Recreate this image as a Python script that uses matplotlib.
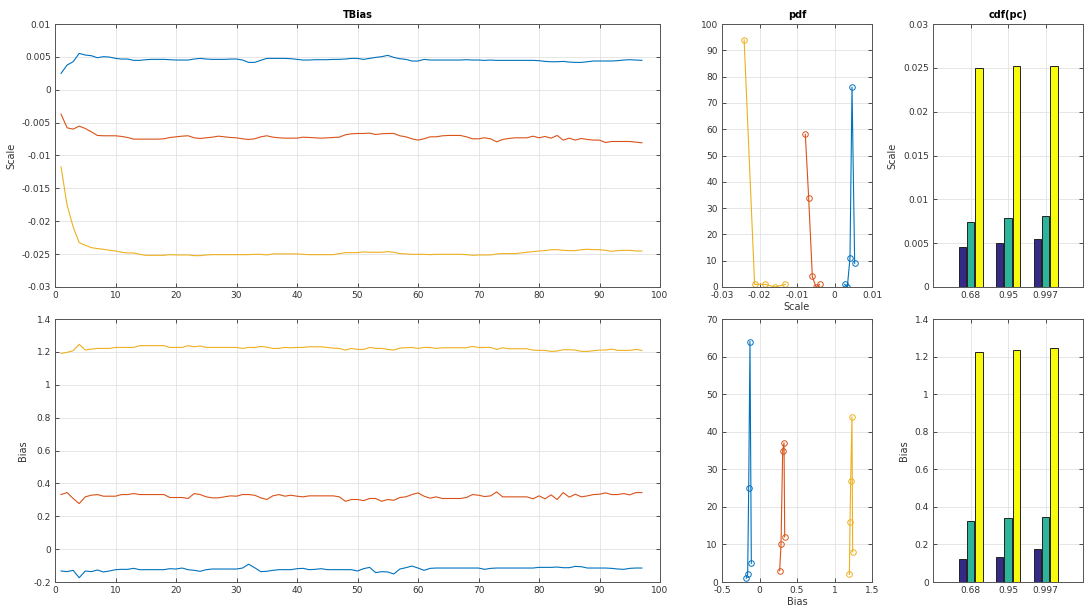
import numpy as np
import matplotlib
matplotlib.use("Agg")
import matplotlib.pyplot as plt
from matplotlib.ticker import FuncFormatter

plt.rcParams['font.family'] = ['DejaVu Sans']
plt.rcParams['axes.unicode_minus'] = False

# ---------------- data ----------------
epochs = list(range(1, 98))

scale_blue = [.00249, .00376, .00426, .00553, .00528, .00518, .00487, .00503, .00497, .00477,
              .00467, .00467, .00447, .00447, .00457, .00462, .00462, .00462, .00457, .00452,
              .00452, .00452, .00467, .00477, .00467, .00462, .00462, .00462, .00467, .00467,
              .00452, .00416, .00416, .00447, .00477, .00477, .00477, .00477, .00472, .00462,
              .00452, .00452, .00457, .00457, .00457, .00462, .00462, .00467, .00477, .00477,
              .00462, .00477, .00492, .00503, .00523, .00492, .00472, .00462, .00437, .00437,
              .00462, .00452, .00452, .00452, .00452, .00452, .00452, .00457, .00452, .00452,
              .00447, .00452, .00447, .00447, .00447, .00447, .00447, .00447, .00447, .00442,
              .00431, .00426, .00426, .00431, .00421, .00416, .00416, .00426, .00437, .00437,
              .00437, .00437, .00442, .00452, .00457, .00452, .00447]

scale_orange = [-.00371, -.00579, -.00599, -.00553, -.00589, -.00640, -.00695, -.00700, -.00700, -.00700,
                -.00710, -.00726, -.00751, -.00751, -.00751, -.00751, -.00751, -.00746, -.00726, -.00716,
                -.00706, -.00700, -.00731, -.00741, -.00731, -.00721, -.00706, -.00716, -.00726, -.00731,
                -.00746, -.00756, -.00746, -.00716, -.00700, -.00721, -.00731, -.00736, -.00736, -.00736,
                -.00721, -.00726, -.00731, -.00736, -.00731, -.00726, -.00721, -.00685, -.00670, -.00665,
                -.00665, -.00660, -.00680, -.00670, -.00665, -.00665, -.00700, -.00716, -.00746, -.00766,
                -.00746, -.00716, -.00716, -.00701, -.00695, -.00695, -.00695, -.00716, -.00746, -.00746,
                -.00731, -.00746, -.00792, -.00756, -.00741, -.00731, -.00731, -.00731, -.00706, -.00731,
                -.00711, -.00736, -.00695, -.00766, -.00736, -.00766, -.00741, -.00756, -.00766, -.00766,
                -.00802, -.00787, -.00787, -.00787, -.00787, -.00797, -.00807]

scale_yellow = [-.01173, -.01756, -.02086, -.02325, -.02365, -.02401, -.02416, -.02426, -.02442, -.02452,
                -.02472, -.02482, -.02482, -.02503, -.02518, -.02518, -.02518, -.02518, -.02508, -.02513,
                -.02513, -.02513, -.02523, -.02523, -.02513, -.02508, -.02508, -.02508, -.02508, -.02508,
                -.02508, -.02508, -.02503, -.02503, -.02513, -.02497, -.02497, -.02497, -.02497, -.02497,
                -.02503, -.02508, -.02508, -.02508, -.02508, -.02508, -.02492, -.02477, -.02477, -.02477,
                -.02467, -.02472, -.02472, -.02472, -.02462, -.02472, -.02492, -.02497, -.02503, -.02503,
                -.02503, -.02508, -.02503, -.02503, -.02503, -.02503, -.02503, -.02508, -.02518, -.02513,
                -.02513, -.02513, -.02497, -.02492, -.02492, -.02492, -.02482, -.02472, -.02462, -.02452,
                -.02447, -.02432, -.02432, -.02442, -.02447, -.02447, -.02432, -.02426, -.02432, -.02432,
                -.02442, -.02457, -.02447, -.02442, -.02442, -.02452, -.02452]

bias_blue = [-.133, -.137, -.129, -.174, -.133, -.137, -.127, -.139, -.133, -.125,
             -.123, -.123, -.117, -.125, -.125, -.125, -.125, -.125, -.119, -.121,
             -.115, -.125, -.129, -.135, -.125, -.121, -.121, -.121, -.121, -.121,
             -.115, -.092, -.113, -.137, -.135, -.129, -.125, -.125, -.125, -.119,
             -.117, -.125, -.123, -.119, -.125, -.125, -.125, -.125, -.125, -.133,
             -.119, -.111, -.143, -.137, -.139, -.151, -.121, -.113, -.103, -.115,
             -.129, -.117, -.115, -.115, -.115, -.115, -.115, -.115, -.115, -.115,
             -.123, -.117, -.115, -.115, -.115, -.115, -.115, -.115, -.115, -.111,
             -.111, -.111, -.109, -.113, -.113, -.105, -.107, -.115, -.115, -.115,
             -.115, -.117, -.121, -.123, -.117, -.115, -.115]

bias_orange = [.332, .344, .308, .277, .318, .328, .332, .322, .322, .322,
               .332, .332, .338, .332, .332, .332, .332, .332, .314, .314,
               .314, .308, .338, .332, .318, .312, .312, .318, .324, .322,
               .332, .332, .328, .312, .302, .324, .332, .322, .328, .322,
               .318, .324, .324, .324, .324, .324, .318, .291, .302, .302,
               .295, .308, .308, .291, .302, .297, .314, .318, .332, .342,
               .322, .310, .318, .308, .308, .308, .308, .314, .332, .328,
               .320, .324, .348, .318, .318, .318, .318, .318, .306, .324,
               .306, .330, .302, .344, .316, .334, .318, .324, .332, .334,
               .342, .332, .332, .338, .330, .344, .344]

bias_yellow = [1.191, 1.197, 1.207, 1.246, 1.211, 1.217, 1.221, 1.221, 1.221, 1.227,
               1.227, 1.227, 1.227, 1.238, 1.238, 1.238, 1.238, 1.238, 1.227, 1.227,
               1.227, 1.238, 1.231, 1.236, 1.227, 1.227, 1.227, 1.227, 1.227, 1.227,
               1.221, 1.227, 1.227, 1.233, 1.229, 1.221, 1.221, 1.227, 1.225, 1.227,
               1.227, 1.231, 1.231, 1.231, 1.227, 1.223, 1.221, 1.211, 1.221, 1.215,
               1.215, 1.227, 1.221, 1.221, 1.215, 1.211, 1.223, 1.225, 1.227, 1.221,
               1.227, 1.227, 1.221, 1.225, 1.225, 1.225, 1.225, 1.225, 1.233, 1.227,
               1.227, 1.227, 1.215, 1.225, 1.219, 1.219, 1.219, 1.219, 1.211, 1.209,
               1.209, 1.203, 1.205, 1.213, 1.213, 1.211, 1.203, 1.203, 1.207, 1.211,
               1.211, 1.217, 1.209, 1.209, 1.209, 1.215, 1.209]

# pdf (histogram) of Scale
pdf_scale_blue_x = [0.00271, 0.00342, 0.00413, 0.00467, 0.00538]
pdf_scale_blue_y = [1, 0, 11, 76, 9]
pdf_scale_orange_x = [-0.00778, -0.00689, -0.00591, -0.00493, -0.00400]
pdf_scale_orange_y = [58, 34, 4, 0, 1]
pdf_scale_yellow_x = [-0.0241, -0.0213, -0.0185, -0.0159, -0.0131]
pdf_scale_yellow_y = [94, 1, 1, 0, 1]

# pdf (histogram) of Bias
pdf_bias_blue_x = [-0.176, -0.158, -0.144, -0.127, -0.109]
pdf_bias_blue_y = [1, 2, 25, 64, 5]
pdf_bias_orange_x = [0.269, 0.287, 0.309, 0.327, 0.336]
pdf_bias_orange_y = [3, 10, 35, 37, 12]
pdf_bias_yellow_x = [1.198, 1.207, 1.216, 1.233, 1.242]
pdf_bias_yellow_y = [2, 16, 27, 44, 8]

# cdf percentiles
pc_labels = ['0.68', '0.95', '0.997']
cdf_scale = [[0.00453, 0.00499, 0.00544],   # series 1
             [0.00739, 0.00792, 0.00807],   # series 2
             [0.02497, 0.0252, 0.0252]]     # series 3
cdf_bias = [[0.1226, 0.135, 0.176],
            [0.327, 0.343, 0.348],
            [1.226, 1.236, 1.244]]

# ---------------- style ----------------
C_BLUE = '#0072BD'
C_ORANGE = '#D95319'
C_YELLOW = '#EDB120'
BAR_COLORS = ['#352A87', '#2FB49C', '#F9FB0E']
FS = 6.5
TXT = '#333333'

fmt = FuncFormatter(lambda v, p: ('%g' % round(v, 6)))


def style(ax, xticks, yticks, xlim, ylim):
    ax.set_xlim(*xlim)
    ax.set_ylim(*ylim)
    ax.set_xticks(xticks)
    ax.set_yticks(yticks)
    ax.grid(True, color='#e2e2e2', lw=0.6)
    ax.set_axisbelow(True)
    ax.tick_params(direction='in', top=True, right=True, length=3, width=0.6,
                   labelsize=FS, colors=TXT, pad=3)
    for s in ax.spines.values():
        s.set_color('#555555')
        s.set_linewidth(0.7)
    ax.xaxis.set_major_formatter(fmt)
    ax.yaxis.set_major_formatter(fmt)


fig = plt.figure(figsize=(10.84, 6.07), dpi=100)
W, H = 1084, 607


def pos(l, t, r, b):
    return [l / W, 1 - b / H, (r - l) / W, (b - t) / H]


ax_ts1 = fig.add_axes(pos(55, 24, 660, 287))
ax_ts2 = fig.add_axes(pos(55, 319, 660, 582))
ax_p1 = fig.add_axes(pos(722, 24, 872, 287))
ax_p2 = fig.add_axes(pos(722, 319, 872, 582))
ax_c1 = fig.add_axes(pos(933, 24, 1083, 287))
ax_c2 = fig.add_axes(pos(933, 319, 1083, 582))

lw = 0.8
# time series
for ys, c in [(scale_blue, C_BLUE), (scale_orange, C_ORANGE), (scale_yellow, C_YELLOW)]:
    ax_ts1.plot(epochs, ys, color=c, lw=lw)
style(ax_ts1, np.arange(0, 101, 10), np.arange(-0.03, 0.0101, 0.005), (0, 100), (-0.03, 0.01))
ax_ts1.set_title('TBias', fontsize=7, fontweight='bold', pad=4)
ax_ts1.set_ylabel('Scale', fontsize=7, color=TXT)

for ys, c in [(bias_blue, C_BLUE), (bias_orange, C_ORANGE), (bias_yellow, C_YELLOW)]:
    ax_ts2.plot(epochs, ys, color=c, lw=lw)
style(ax_ts2, np.arange(0, 101, 10), np.arange(-0.2, 1.401, 0.2), (0, 100), (-0.2, 1.4))
ax_ts2.set_ylabel('Bias', fontsize=7, color=TXT)

# pdf
mk = dict(marker='o', markersize=4, markerfacecolor='none', markeredgewidth=0.7, lw=lw)
for xs, ys, c in [(pdf_scale_blue_x, pdf_scale_blue_y, C_BLUE),
                  (pdf_scale_orange_x, pdf_scale_orange_y, C_ORANGE),
                  (pdf_scale_yellow_x, pdf_scale_yellow_y, C_YELLOW)]:
    ax_p1.plot(xs, ys, color=c, markeredgecolor=c, **mk)
style(ax_p1, np.arange(-0.03, 0.0101, 0.01), np.arange(0, 101, 10), (-0.03, 0.01), (0, 100))
ax_p1.set_title('pdf', fontsize=7, fontweight='bold', pad=4)
ax_p1.set_xlabel('Scale', fontsize=7, color=TXT, labelpad=1)
ax_p1.patch.set_alpha(0)

for xs, ys, c in [(pdf_bias_blue_x, pdf_bias_blue_y, C_BLUE),
                  (pdf_bias_orange_x, pdf_bias_orange_y, C_ORANGE),
                  (pdf_bias_yellow_x, pdf_bias_yellow_y, C_YELLOW)]:
    ax_p2.plot(xs, ys, color=c, markeredgecolor=c, **mk)
style(ax_p2, np.arange(-0.5, 1.501, 0.5), np.arange(0, 71, 10), (-0.5, 1.5), (0, 70))
ax_p2.set_xlabel('Bias', fontsize=7, color=TXT, labelpad=1)

# cdf bars
xg = np.arange(1, len(pc_labels) + 1)
offsets = [-0.225, 0.0, 0.225]
bw = 0.19
for ax, data in [(ax_c1, cdf_scale), (ax_c2, cdf_bias)]:
    for k in range(3):
        ax.bar(xg + offsets[k], data[k], width=bw, color=BAR_COLORS[k],
               edgecolor='#222222', linewidth=0.7, zorder=3)
style(ax_c1, xg, np.arange(0, 0.0301, 0.005), (0, 4), (0, 0.03))
style(ax_c2, xg, np.arange(0, 1.401, 0.2), (0, 4), (0, 1.4))
for ax in (ax_c1, ax_c2):
    ax.set_xticklabels(pc_labels)
ax_c1.set_title('cdf(pc)', fontsize=7, fontweight='bold', pad=4)
ax_c1.set_ylabel('Scale', fontsize=7, color=TXT)
ax_c2.set_ylabel('Bias', fontsize=7, color=TXT)

fig.savefig('out.png', dpi=100)
